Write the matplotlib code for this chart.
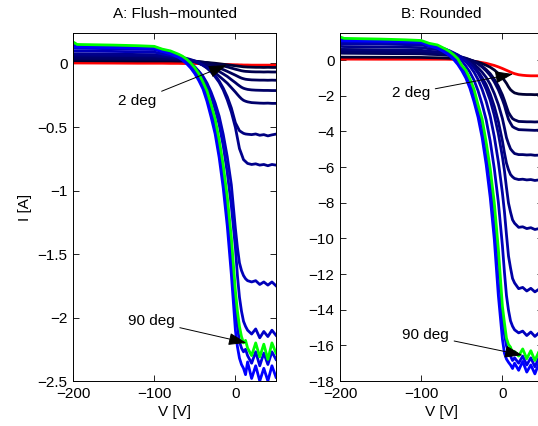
import numpy as np
import matplotlib.pyplot as plt
from matplotlib.ticker import FuncFormatter

plt.rcParams['font.family'] = ['Liberation Sans', 'DejaVu Sans']

# probe voltage (V) shared by all sweeps
V = [-200, -195, -150, -120, -100, -90, -80, -70, -65, -60, -55, -50, -45, -40, -35, -30,
     -25, -20, -15, -10, -5, 0, 2.5, 5, 7.5, 10, 12.5, 15, 20, 25, 30, 35, 40, 45, 50]

# A: flush-mounted probe, current [A]
red_a = [0.004, 0.004, 0.003, 0.002, 0.002, 0.002, 0.001, 0.001, 0.0, 0.0, 0.0, 0.0, -0.001,
         -0.002, -0.003, -0.004, -0.005, -0.006, -0.007, -0.008, -0.009, -0.010, -0.010, -0.011,
         -0.011, -0.012, -0.012, -0.012, -0.013, -0.013, -0.013, -0.013, -0.013, -0.013, -0.013]
flush = [
    [0.022, 0.022, 0.021, 0.02, 0.02, 0.02, 0.02, 0.019, 0.0185, 0.018, 0.017, 0.015, 0.013,
     0.01, 0.008, 0.005, 0.002, -0.002, -0.006, -0.01, -0.014, -0.018, -0.02, -0.022, -0.024,
     -0.026, -0.027, -0.028, -0.029, -0.03, -0.03, -0.031, -0.03, -0.031, -0.031],
    [0.033, 0.033, 0.032, 0.031, 0.03, 0.03, 0.029, 0.027, 0.026, 0.024, 0.022, 0.019, 0.015,
     0.011, 0.006, 0.0, -0.006, -0.012, -0.019, -0.027, -0.036, -0.045, -0.049, -0.053, -0.057,
     -0.06, -0.062, -0.063, -0.065, -0.066, -0.066, -0.067, -0.066, -0.067, -0.067],
    [0.038, 0.038, 0.037, 0.036, 0.035, 0.034, 0.033, 0.031, 0.029, 0.026, 0.022, 0.018, 0.012,
     0.005, -0.003, -0.012, -0.023, -0.035, -0.048, -0.062, -0.077, -0.092, -0.1, -0.108, -0.115,
     -0.12, -0.124, -0.126, -0.129, -0.13, -0.131, -0.131, -0.132, -0.131, -0.132],
    [0.044, 0.044, 0.042, 0.041, 0.04, 0.039, 0.037, 0.034, 0.031, 0.028, 0.023, 0.016, 0.008,
     -0.002, -0.014, -0.027, -0.044, -0.063, -0.082, -0.102, -0.127, -0.151, -0.164, -0.176,
     -0.187, -0.195, -0.2, -0.204, -0.208, -0.21, -0.211, -0.212, -0.212, -0.213, -0.213],
    [0.055, 0.055, 0.053, 0.051, 0.05, 0.048, 0.046, 0.041, 0.037, 0.032, 0.025, 0.015, 0.003,
     -0.012, -0.028, -0.048, -0.072, -0.1, -0.127, -0.155, -0.19, -0.225, -0.244, -0.262,
     -0.278, -0.29, -0.297, -0.302, -0.308, -0.31, -0.312, -0.313, -0.312, -0.314, -0.314],
    [0.066, 0.066, 0.063, 0.061, 0.06, 0.054, 0.05, 0.043, 0.038, 0.032, 0.024, 0.013, 0.001,
     -0.014, -0.036, -0.064, -0.095, -0.138, -0.194, -0.262, -0.35, -0.467, -0.498, -0.529,
     -0.54, -0.55, -0.555, -0.557, -0.56, -0.555, -0.565, -0.56, -0.57, -0.562, -0.556],
    [0.077, 0.077, 0.074, 0.071, 0.07, 0.064, 0.06, 0.053, 0.047, 0.04, 0.031, 0.02, 0.005,
     -0.013, -0.034, -0.065, -0.104, -0.148, -0.208, -0.287, -0.382, -0.504, -0.587, -0.67,
     -0.713, -0.757, -0.772, -0.787, -0.795, -0.79, -0.8, -0.795, -0.805, -0.795, -0.8],
    [0.1, 0.099, 0.095, 0.092, 0.09, 0.075, 0.065, 0.05, 0.035, 0.019, -0.001, -0.028, -0.061,
     -0.1, -0.154, -0.225, -0.31, -0.415, -0.558, -0.735, -0.955, -1.3, -1.45, -1.57, -1.63,
     -1.67, -1.695, -1.71, -1.72, -1.71, -1.74, -1.72, -1.745, -1.72, -1.75],
    [0.122, 0.12, 0.116, 0.112, 0.11, 0.093, 0.08, 0.063, 0.047, 0.027, 0.002, -0.027, -0.067,
     -0.114, -0.174, -0.257, -0.36, -0.48, -0.647, -0.86, -1.12, -1.45, -1.67, -1.84, -1.95,
     -2.03, -2.07, -2.1, -2.13, -2.09, -2.16, -2.11, -2.15, -2.1, -2.14],
    [0.143, 0.14, 0.137, 0.133, 0.13, 0.108, 0.091, 0.064, 0.045, 0.02, -0.012, -0.05, -0.102,
     -0.16, -0.248, -0.36, -0.48, -0.65, -0.87, -1.14, -1.48, -1.94, -2.07, -2.19, -2.24,
     -2.27, -2.25, -2.3, -2.36, -2.27, -2.38, -2.28, -2.37, -2.27, -2.33],
    [0.132, 0.13, 0.126, 0.122, 0.12, 0.096, 0.077, 0.049, 0.026, -0.002, -0.036, -0.08, -0.135,
     -0.2, -0.298, -0.42, -0.553, -0.74, -0.98, -1.28, -1.66, -2.1, -2.23, -2.32, -2.37, -2.4,
     -2.45, -2.35, -2.48, -2.38, -2.5, -2.4, -2.5, -2.38, -2.47],
]
flush_blue = [0.2, 0.3, 0.35, 0.4, 0.42, 0.5, 0.55, 0.72, 0.78, 0.88, 1.0]
green_a = [0.17, 0.15, 0.145, 0.14, 0.135, 0.113, 0.099, 0.073, 0.057, 0.033, 0.004, -0.034,
           -0.081, -0.145, -0.215, -0.32, -0.435, -0.6, -0.8, -1.05, -1.37, -1.79, -1.95, -2.07,
           -2.15, -2.2, -2.18, -2.24, -2.3, -2.2, -2.31, -2.21, -2.33, -2.2, -2.28]

# B: rounded probe
red_b = [0.06, 0.055, 0.05, 0.05, 0.05, 0.05, 0.05, 0.05, 0.045, 0.04, 0.032, 0.02, 0.0, -0.03,
         -0.065, -0.1, -0.14, -0.18, -0.24, -0.3, -0.38, -0.47, -0.52, -0.57, -0.62, -0.67,
         -0.72, -0.76, -0.82, -0.85, -0.87, -0.88, -0.88, -0.88, -0.89]
rounded = [
    [0.17, 0.165, 0.16, 0.155, 0.15, 0.139, 0.13, 0.115, 0.106, 0.09, 0.073, 0.05, 0.023, -0.01,
     -0.058, -0.11, -0.191, -0.29, -0.4, -0.55, -0.75, -0.99, -1.14, -1.3, -1.5, -1.66, -1.76,
     -1.84, -1.9, -1.92, -1.93, -1.93, -1.94, -1.93, -1.94],
    [0.39, 0.385, 0.37, 0.36, 0.35, 0.325, 0.31, 0.28, 0.26, 0.23, 0.194, 0.15, 0.09, 0.02,
     -0.07, -0.19, -0.34, -0.53, -0.76, -1.07, -1.46, -1.95, -2.26, -2.6, -2.93, -3.12, -3.28,
     -3.35, -3.44, -3.45, -3.46, -3.46, -3.47, -3.46, -3.48],
    [0.44, 0.435, 0.42, 0.41, 0.4, 0.372, 0.35, 0.32, 0.296, 0.26, 0.223, 0.17, 0.106, 0.02,
     -0.076, -0.21, -0.388, -0.6, -0.864, -1.22, -1.66, -2.22, -2.54, -2.95, -3.32, -3.54,
     -3.73, -3.8, -3.9, -3.91, -3.92, -3.93, -3.94, -3.93, -3.95],
    [0.5, 0.49, 0.47, 0.46, 0.45, 0.41, 0.38, 0.33, 0.3, 0.25, 0.196, 0.12, 0.028, -0.09,
     -0.226, -0.43, -0.677, -0.97, -1.36, -1.87, -2.49, -3.28, -3.8, -4.35, -4.69, -4.98,
     -5.12, -5.24, -5.3, -5.3, -5.32, -5.31, -5.34, -5.33, -5.36],
    [0.6, 0.6, 0.58, 0.56, 0.55, 0.495, 0.46, 0.4, 0.346, 0.28, 0.2, 0.11, -0.025, -0.18,
     -0.375, -0.64, -0.98, -1.37, -1.91, -2.59, -3.44, -4.53, -5.2, -5.78, -6.15, -6.42, -6.55,
     -6.64, -6.7, -6.68, -6.72, -6.7, -6.75, -6.72, -6.76],
    [0.77, 0.76, 0.74, 0.72, 0.7, 0.633, 0.59, 0.52, 0.458, 0.38, 0.285, 0.16, 0.01, -0.18,
     -0.42, -0.73, -1.14, -1.63, -2.25, -3.09, -4.13, -5.42, -6.2, -7.15, -8.02, -8.53, -8.96,
     -9.15, -9.38, -9.35, -9.45, -9.4, -9.5, -9.45, -9.55],
    [0.93, 0.92, 0.9, 0.87, 0.85, 0.76, 0.7, 0.6, 0.52, 0.41, 0.287, 0.12, -0.09, -0.35, -0.67,
     -1.09, -1.64, -2.31, -3.15, -4.29, -5.7, -7.45, -8.5, -9.79, -10.99, -11.66, -12.25, -12.5,
     -12.82, -12.75, -12.95, -12.8, -13.0, -12.85, -13.0],
    [1.04, 1.03, 1.0, 0.97, 0.95, 0.827, 0.74, 0.61, 0.494, 0.35, 0.17, -0.04, -0.34, -0.68,
     -1.12, -1.72, -2.47, -3.35, -4.55, -6.08, -7.97, -10.41, -11.9, -13.21, -14.03, -14.63,
     -14.93, -15.13, -15.3, -15.2, -15.45, -15.25, -15.5, -15.3, -15.45],
    [1.15, 1.14, 1.11, 1.08, 1.05, 0.88, 0.75, 0.55, 0.39, 0.19, -0.04, -0.36, -0.73, -1.22,
     -1.88, -2.7, -3.66, -4.98, -6.66, -8.73, -11.41, -14.48, -15.37, -16.03, -16.37, -16.6,
     -16.85, -16.7, -17.0, -16.6, -17.1, -16.7, -17.2, -16.7, -17.0],
    [1.1, 1.09, 1.06, 1.03, 1.0, 0.8, 0.67, 0.41, 0.25, 0.03, -0.24, -0.59, -1.01, -1.58, -2.33,
     -3.2, -4.34, -5.85, -7.71, -10.05, -13.2, -15.65, -16.44, -16.77, -16.95, -17.1, -17.3,
     -17.0, -17.4, -16.9, -17.5, -17.1, -17.6, -17.0, -17.5],
]
rounded_blue = [0.2, 0.33, 0.38, 0.42, 0.48, 0.55, 0.65, 0.75, 0.9, 1.0]
green_b = [1.3, 1.22, 1.18, 1.14, 1.1, 0.94, 0.85, 0.62, 0.48, 0.3, 0.08, -0.3, -0.57, -1.05,
           -1.63, -2.5, -3.3, -4.6, -6.1, -8.0, -10.6, -13.8, -14.74, -15.6, -15.95, -16.1,
           -16.45, -16.35, -16.6, -16.2, -16.75, -16.3, -16.85, -16.35, -16.7]

fig = plt.figure(figsize=(5.38, 4.26), dpi=100)
ax1 = fig.add_axes([0.1357, 0.1056, 0.3773, 0.8169])
ax2 = fig.add_axes([0.632, 0.1056, 0.3773, 0.8169])

arrow = dict(arrowstyle='-|>,head_length=1.1,head_width=0.38', color='k', lw=0.7,
             mutation_scale=10, shrinkA=2, shrinkB=0)
fmt = FuncFormatter(lambda v, p: ('%g' % v).replace('-', '\u2212'))


def draw(ax, red, curves, blues, green, title, ylim, yticks, notes):
    ax.plot(V, red, color=(1, 0, 0), lw=2)
    for c, b in zip(curves, blues):
        ax.plot(V, c, color=(0, 0, b), lw=2)
    ax.plot(V, green, color=(0, 1, 0), lw=2)
    ax.set_xlim(-200, 50)
    ax.set_ylim(*ylim)
    ax.set_xticks([-200, -100, 0])
    ax.set_yticks(yticks)
    ax.xaxis.set_major_formatter(fmt)
    ax.yaxis.set_major_formatter(fmt)
    ax.tick_params(direction='in', top=True, right=True, length=4, width=0.6,
                   labelsize=11, pad=4)
    for s in ax.spines.values():
        s.set_linewidth(0.7)
    ax.set_title(title, fontsize=11, pad=11)
    ax.set_xlabel('V [V]', fontsize=11, labelpad=3)
    for txt, xy, xytext in notes:
        ax.annotate(txt, xy=xy, xytext=xytext, fontsize=11, ha='center', va='center',
                    arrowprops=arrow)


draw(ax1, red_a, flush, flush_blue, green_a, 'A: Flush\u2212mounted', (-2.5, 0.24),
     [-2.5, -2, -1.5, -1, -0.5, 0],
     [('2 deg', (-11, -0.013), (-121, -0.296)), ('90 deg', (13.5, -2.2), (-104, -2.028))])
draw(ax2, red_b, rounded, rounded_blue, green_b, 'B: Rounded', (-18, 1.52),
     list(range(-18, 1, 2)),
     [('2 deg', (13, -0.78), (-113, -1.87)), ('90 deg', (24.7, -16.55), (-95, -15.42))])
ax1.set_ylabel('I [A]', fontsize=11)

fig.savefig('out.png', dpi=100)
